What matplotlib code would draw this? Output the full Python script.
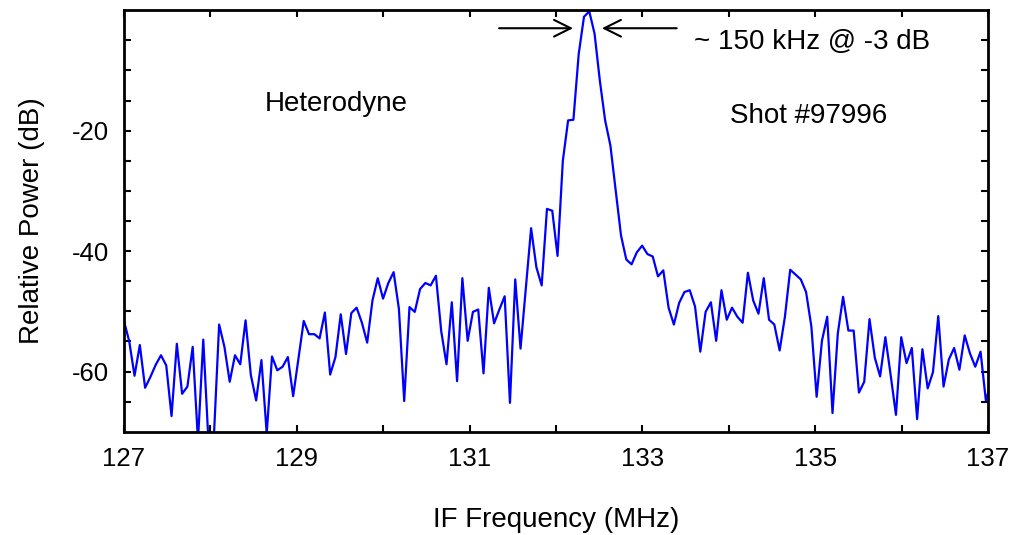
import numpy as np
import matplotlib
matplotlib.use("Agg")
import matplotlib.pyplot as plt

# Spektrum, one value per FFT bin (dB)
power_db = [
    -51.6, -55.0, -60.7, -55.6, -62.7, -60.9, -58.9, -57.3, -59.0, -67.4,
    -55.4, -63.7, -62.5, -55.9, -71.5, -54.7, -72.0, -71.0, -52.2, -55.9,
    -61.7, -57.3, -58.8, -51.5, -60.6, -64.8, -58.1, -70.3, -57.5, -59.8,
    -59.2, -57.6, -64.1, -57.8, -51.6, -53.8, -53.8, -54.5, -50.2, -60.5,
    -57.6, -50.5, -57.1, -50.3, -49.4, -51.9, -55.2, -48.2, -44.5, -47.9,
    -45.3, -43.5, -49.6, -64.9, -49.3, -50.1, -46.3, -45.3, -45.7, -44.1,
    -53.3, -58.8, -48.5, -61.6, -44.5, -54.9, -50.1, -49.7, -60.3, -46.1,
    -52.0, -49.7, -47.5, -65.2, -44.7, -56.2, -46.2, -36.2, -42.7, -45.7,
    -33.0, -33.3, -40.8, -25.0, -18.3, -18.2, -7.3, -1.1, -0.2, -3.9,
    -11.7, -18.3, -22.5, -29.9, -37.4, -41.4, -42.2, -40.2, -39.1, -40.5,
    -40.9, -44.2, -43.2, -49.4, -52.2, -48.6, -46.8, -46.5, -49.2, -56.7,
    -50.1, -48.5, -54.9, -46.5, -51.4, -49.4, -50.9, -51.9, -43.6, -48.2,
    -50.4, -44.5, -51.4, -52.2, -56.5, -50.9, -43.1, -43.9, -44.7, -46.8,
    -52.5, -64.2, -54.9, -50.9, -66.9, -53.7, -47.6, -53.2, -53.2, -63.5,
    -61.7, -51.3, -57.7, -60.8, -54.3, -60.6, -67.2, -54.3, -58.6, -56.1,
    -67.9, -56.3, -62.8, -60.1, -50.8, -62.5, -58.0, -56.1, -59.7, -54.0,
    -57.0, -59.2, -56.7, -64.8, -62.0,
]
f_start = 127.0      # MHz
bin_width = 0.0612   # MHz per FFT bin
freq = f_start + bin_width * np.arange(len(power_db))

x_ticks = list(range(127, 138))
x_labels = [str(t) if t % 2 == 1 else "" for t in x_ticks]
y_ticks = list(range(-65, 0, 5))
y_labels = [str(t) if t in (-60, -40, -20) else "" for t in y_ticks]

plt.rcParams["font.family"] = ["Liberation Sans", "DejaVu Sans"]

fig = plt.figure(figsize=(10.16, 5.35), dpi=100)
ax = fig.add_axes([0.122, 0.193, 0.8504, 0.788])

ax.plot(freq, power_db, color="#0000ff", lw=1.6)

ax.set_xlim(127, 137)
ax.set_ylim(-70, 0)
ax.set_xticks(x_ticks)
ax.set_xticklabels(x_labels)
ax.set_yticks(y_ticks)
ax.set_yticklabels(y_labels)
ax.tick_params(direction="in", top=True, right=True, length=5, width=1.5,
               labelsize=18.5)
ax.tick_params(axis="x", pad=11)
ax.tick_params(axis="y", pad=11)
for sp in ax.spines.values():
    sp.set_linewidth(2)

ax.set_xlabel("IF Frequency (MHz)", fontsize=20, labelpad=26)
ax.set_ylabel("Relative Power (dB)", fontsize=20, labelpad=19)

# annotations
ax.text(129.46, -15.5, "Heterodyne", fontsize=20, ha="center", va="center")
ax.text(134.92, -17.5, "Shot #97996", fontsize=20, ha="center", va="center")
ax.text(133.6, -5.3, "~ 150 kHz @ -3 dB", fontsize=20, ha="left", va="center")
arrow = dict(arrowstyle="->", color="black", lw=1.5, mutation_scale=30)
ax.annotate("", xy=(132.23, -3.0), xytext=(131.31, -3.0), arrowprops=arrow)
ax.annotate("", xy=(132.50, -3.0), xytext=(133.43, -3.0), arrowprops=arrow)

fig.savefig("out.png", dpi=100)
